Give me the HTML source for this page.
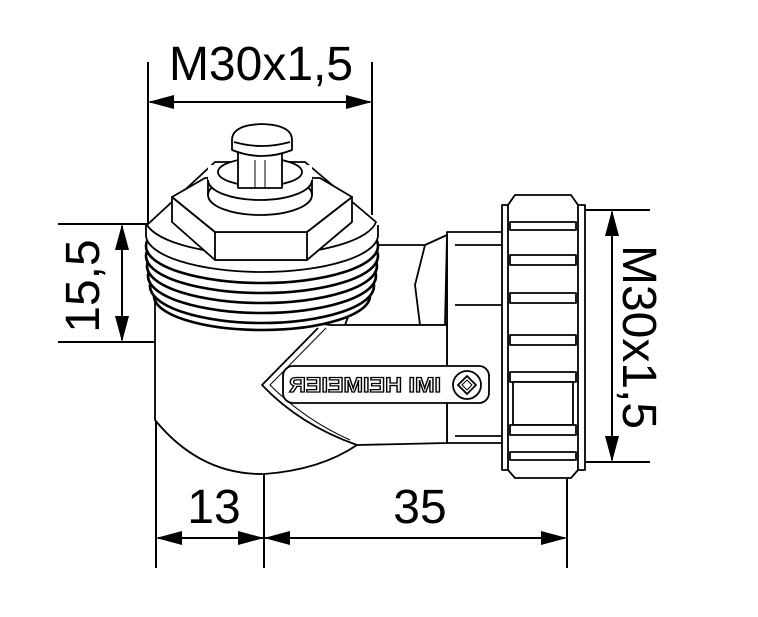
<!DOCTYPE html>
<html><head><meta charset="utf-8"><style>
html,body{margin:0;padding:0;background:#fff;}
svg{display:block;}
text{font-family:"Liberation Sans",Arial,sans-serif;}
</style></head><body>
<svg width="758" height="617" viewBox="0 0 758 617" xmlns="http://www.w3.org/2000/svg">
<g stroke="#000" fill="none" stroke-width="2">
<line x1="148" y1="62" x2="148" y2="225"/>
<line x1="372" y1="62" x2="372" y2="215"/>
<line x1="150" y1="102" x2="370" y2="102"/>
<line x1="58" y1="224" x2="150" y2="224"/>
<line x1="58" y1="342" x2="156" y2="342"/>
<line x1="122" y1="226" x2="122" y2="340"/>
<line x1="578" y1="210" x2="650" y2="210"/>
<line x1="578" y1="462" x2="650" y2="462"/>
<line x1="612" y1="212" x2="612" y2="460"/>
<line x1="156" y1="420" x2="156" y2="568"/>
<line x1="264" y1="474" x2="264" y2="568"/>
<line x1="567" y1="470" x2="567" y2="568"/>
<line x1="158" y1="538" x2="565" y2="538"/>
</g>
<g fill="#000">
<polygon points="148,102 174,95 174,109"/>
<polygon points="372,102 346,95 346,109"/>
<polygon points="122,224 115,250 129,250"/>
<polygon points="122,342 115,316 129,316"/>
<polygon points="612,210 605,236 619,236"/>
<polygon points="612,462 605,436 619,436"/>
<polygon points="156,538 182,531 182,545"/>
<polygon points="264,538 238,531 238,545"/>
<polygon points="264,538 290,531 290,545"/>
<polygon points="567,538 541,531 541,545"/>
</g>
<g font-size="48" fill="#000">
<text x="261" y="80" text-anchor="middle">M30x1,5</text>
<text x="214" y="523" text-anchor="middle">13</text>
<text x="420" y="523" text-anchor="middle">35</text>
<text transform="translate(99,286) rotate(-90)" text-anchor="middle">15,5</text>
<text transform="translate(623,337) rotate(90)" text-anchor="middle">M30x1,5</text>
</g>
<g stroke="#000" fill="#fff" stroke-width="1.8" stroke-linejoin="round">
<rect x="447" y="232" width="56" height="211"/>
<line x1="455" y1="245" x2="502" y2="245"/>
<line x1="455" y1="305" x2="502" y2="305"/>
<line x1="455" y1="436" x2="502" y2="436"/>
<path d="M375,245 L447,245 L447,325 L345,325 Z"/>
<path d="M415,285 L425,245 L447,235 L445,325 L420,325 Z"/>
<path d="M155,300 L155,420 Q200,475 264,474 Q320,470 357,445 L447,443 L447,325 L330,325 L155,300 Z"/>
<path d="M318,328 L262,385 Q300,425 357,445" fill="none"/>
<path d="M326,328 L270,385 Q305,420 350,440" fill="none" stroke-width="1"/>
<rect x="283" y="366" width="206" height="37" rx="10"/>
<circle cx="467" cy="385" r="14"/>
<polygon points="467,376 476,385 467,394 458,385"/>
<polygon points="467,380 472,385 467,390 462,385" stroke-width="1"/>
<g stroke-width="2.6">
<ellipse cx="262" cy="296" rx="108" ry="34"/>
<ellipse cx="262" cy="286" rx="112" ry="37"/>
<ellipse cx="262" cy="276" rx="114" ry="37"/>
<ellipse cx="262" cy="266" rx="115" ry="37"/>
<ellipse cx="262" cy="256" rx="116" ry="37"/>
<ellipse cx="262" cy="246" rx="116" ry="37"/>
</g>
<path d="M146,225 L146,235 A116,37 0 0 0 378,235 L378,225"/>
<path d="M147,225 L215,162 L305,162 L376,222 A116,37 0 0 1 147,225 Z"/>
<polygon points="172,197 172,222 215,260 307,260 352,222 352,197 307,232 215,232"/>
<rect x="215" y="232" width="92" height="28"/>
<polygon points="172,197 205,178 320,178 352,197 307,232 215,232"/>
<ellipse cx="260" cy="195" rx="52" ry="20"/>
<ellipse cx="260" cy="180" rx="52" ry="20"/>
<rect x="208" y="165" width="104" height="15" stroke="none"/>
<line x1="208" y1="180" x2="208" y2="195"/>
<line x1="312" y1="180" x2="312" y2="195"/>
<ellipse cx="260" cy="172" rx="42" ry="14"/>
<rect x="238" y="150" width="44" height="38"/>
<line x1="255" y1="160" x2="255" y2="188" stroke-width="1"/>
<line x1="265" y1="160" x2="265" y2="188" stroke-width="1"/>
<path d="M232,150 L232,140 Q232,125 262,124 Q292,125 292,140 L292,150 Q262,162 232,150 Z"/>
<path d="M234,142 Q262,150 290,142" fill="none"/>
<rect x="502" y="205" width="83" height="265"/>
<path d="M515,195 L571,195 L578,205 L578,470 L571,478 L515,478 L508,470 L508,205 Z"/>
<g fill="#fff">
<rect x="510" y="222" width="66" height="8"/>
<rect x="510" y="255" width="66" height="10"/>
<rect x="510" y="293" width="66" height="10"/>
<rect x="510" y="335" width="66" height="10"/>
<rect x="510" y="372" width="66" height="10"/>
<rect x="513" y="382" width="60" height="43"/>
<rect x="510" y="425" width="66" height="10"/>
<rect x="510" y="452" width="66" height="8"/>
</g>
</g>
<text transform="translate(365,392) scale(-1,1)" text-anchor="middle" font-size="21" font-weight="bold" textLength="152" lengthAdjust="spacingAndGlyphs" fill="#fff" stroke="#000" stroke-width="1.3">IMI HEIMEIER</text>
</svg>
</body></html>
